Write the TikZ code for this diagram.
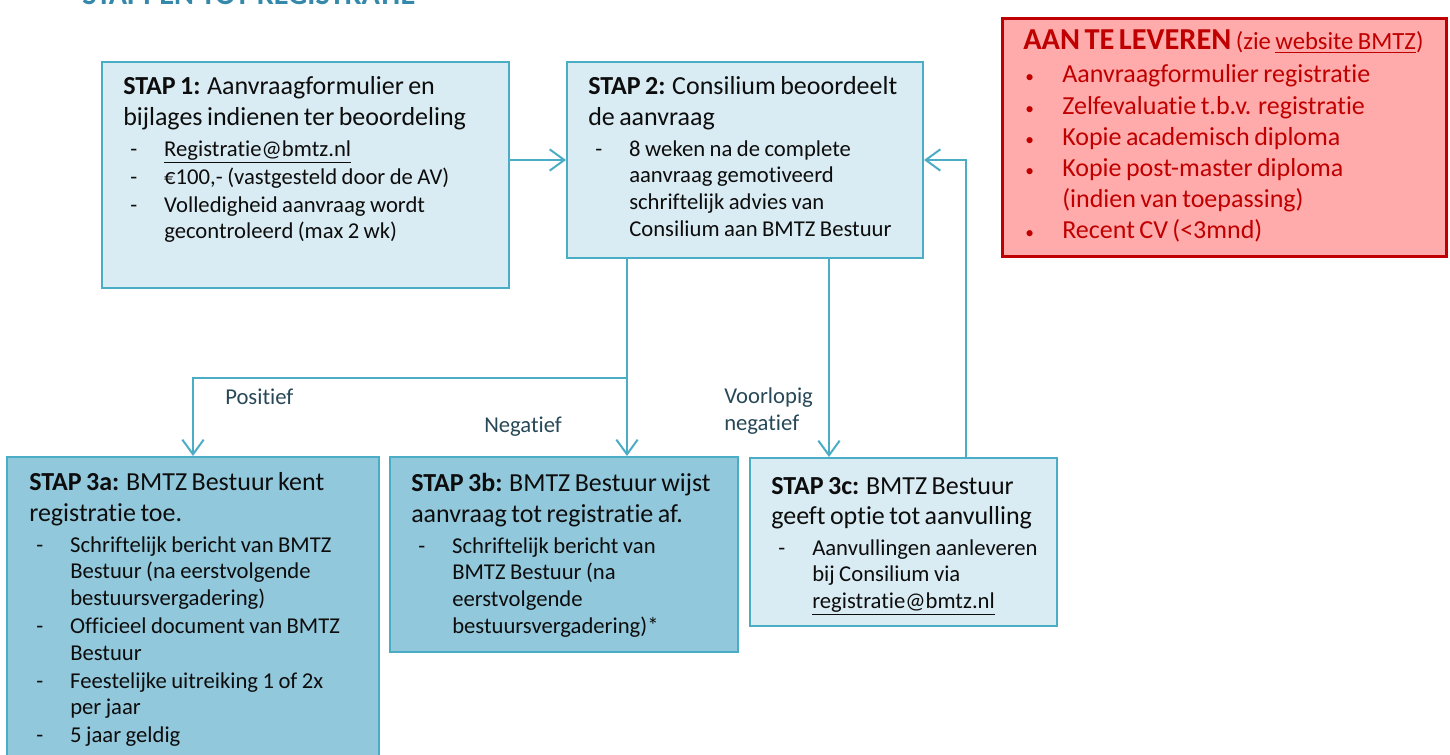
\documentclass[tikz,border=0pt]{standalone}
\usepackage{fontspec}
\setmainfont{Carlito}[Ligatures=NoCommon]
\usetikzlibrary{arrows.meta}

\definecolor{bmtzlijn}{RGB}{75,172,198}
\definecolor{bmtzlicht}{RGB}{218,236,243}
\definecolor{bmtzdonker}{RGB}{146,200,220}
\definecolor{bmtztitel}{RGB}{52,136,170}
\definecolor{bmtzrood}{RGB}{192,0,0}
\definecolor{bmtzroze}{RGB}{255,171,171}
\definecolor{bmtztak}{RGB}{40,72,88}
\definecolor{bmtztekst}{RGB}{13,13,13}

\newcommand{\kop}[1]{{\fontsize{19.5}{23}\selectfont #1\par}\vspace{2pt}}
\newcommand{\streep}[1]{\vspace{1pt}{\fontsize{17}{20}\selectfont\hangindent=30.75pt\hangafter=1\noindent\makebox[30.75pt][l]{\hspace*{5.25pt}-}#1\par}}
\newcommand{\stip}[1]{{\fontsize{19.5}{23.3}\selectfont\hangindent=29.25pt\hangafter=1\noindent\makebox[29.25pt][l]{\hspace*{1.5pt}{\fontsize{13}{13}\selectfont•}}#1\par}}

\tikzstyle{vak}=[draw=bmtzlijn, line width=1.5pt, inner sep=0pt]
\tikzstyle{lichtvak}=[vak, fill=bmtzlicht]
\tikzstyle{donkervak}=[vak, fill=bmtzdonker]
\tikzstyle{eisvak}=[draw=bmtzrood, line width=2.25pt, fill=bmtzroze, inner sep=0pt]
\tikzstyle{staptekst}=[anchor=base west, inner sep=0pt, text width=300pt, align=left, text=bmtztekst]
\tikzstyle{eistekst}=[staptekst, text width=340pt, text=bmtzrood]
\tikzstyle{tak}=[anchor=base west, inner sep=0pt, text width=80pt, align=left, font=\fontsize{17}{20}\selectfont, text=bmtztak]
\tikzstyle{titel}=[anchor=base west, inner sep=0pt, font=\fontsize{22.7}{27}\selectfont\bfseries, text=bmtztitel]
\tikzstyle{pijl}=[draw=bmtzlijn, line width=1.5pt, -{Straight Barb[length=11pt,width=16pt]}]

\begin{document}
\begin{tikzpicture}[x=0.75pt, y=-0.75pt]
  \useasboundingbox (0,0) rectangle (1450,755);

  \node[titel] (titel) at (82,5) {STAPPEN TOT REGISTRATIE};

  % First the boxes
  \node[lichtvak, minimum width=305.25pt, minimum height=169.5pt] (stap1) at (305.5,175) {};
  \node[lichtvak, minimum width=267pt, minimum height=147pt] (stap2) at (745,160) {};
  \node[eisvak, minimum width=333pt, minimum height=178.5pt] (eisen) at (1224,138) {};
  \node[donkervak, minimum width=279pt, minimum height=242.25pt] (stap3a) at (193,618.5) {};
  \node[donkervak, minimum width=261pt, minimum height=146.25pt] (stap3b) at (564,554.5) {};
  \node[lichtvak, minimum width=230.25pt, minimum height=126pt] (stap3c) at (903.5,542) {};

  % Then the text in the boxes
  \node[staptekst] (stap1tekst) at (123,95) {%
    \kop{\textbf{STAP 1:} Aanvraagformulier en\newline bijlages indienen ter beoordeling}
    \streep{\underline{Registratie@bmtz.nl}}
    \streep{€100,- (vastgesteld door de AV)}
    \streep{Volledigheid aanvraag wordt\newline gecontroleerd (max 2 wk)}};

  \node[staptekst] (stap2tekst) at (588,95) {%
    \kop{\textbf{STAP 2:} Consilium beoordeelt\newline de aanvraag}
    \streep{8 weken na de complete\newline aanvraag gemotiveerd\newline schriftelijk advies van\newline Consilium aan BMTZ Bestuur}};

  \node[eistekst] (eisentekst) at (1023,50) {%
    {\fontsize{22.8}{23}\selectfont\textbf{AAN TE LEVEREN} {\fontsize{18.5}{20}\selectfont(zie \underline{website BMTZ})}\par}\vspace{1.45pt}
    \stip{Aanvraagformulier registratie}
    \stip{Zelfevaluatie t.b.v. registratie}
    \stip{Kopie academisch diploma}
    \stip{Kopie post-master diploma\newline (indien van toepassing)}
    \stip{Recent CV (<3mnd)}};

  \node[staptekst] (stap3atekst) at (29,491) {%
    \kop{\textbf{STAP 3a:} BMTZ Bestuur kent\newline registratie toe.}
    \streep{Schriftelijk bericht van BMTZ\newline Bestuur (na eerstvolgende\newline bestuursvergadering)}
    \streep{Officieel document van BMTZ\newline Bestuur}
    \streep{Feestelijke uitreiking 1 of 2x\newline per jaar}
    \streep{5 jaar geldig}};

  \node[staptekst] (stap3btekst) at (411,492) {%
    \kop{\textbf{STAP 3b:} BMTZ Bestuur wijst\newline aanvraag tot registratie af.}
    \streep{Schriftelijk bericht van\newline BMTZ Bestuur (na\newline eerstvolgende\newline bestuursvergadering)*}};

  \node[staptekst] (stap3ctekst) at (771,494) {%
    \kop{\textbf{STAP 3c:} BMTZ Bestuur\newline geeft optie tot aanvulling}
    \streep{Aanvullingen aanleveren\newline bij Consilium via\newline \underline{registratie@bmtz.nl}}};

  % Connect the boxes
  \coordinate (splitsing) at (627,378);
  \coordinate (voorlopigpunt) at (829,378);
  \coordinate (terugpunt) at (966,378);

  \draw[pijl] (stap1.east |- stap2.west) -- (stap2.west);
  \foreach \via/\dest in {splitsing/stap3b, voorlopigpunt/stap3c}
    \draw[pijl] (stap2.south -| \via) -- (\dest.north -| \via);
  \draw[pijl] (splitsing) -| (stap3a.north);
  \draw[pijl] (stap3c.north -| terugpunt) |- (stap2.east);

  \node[tak] (positief) at (225,405) {Positief};
  \node[tak] (negatief) at (484,433) {Negatief};
  \node[tak] (voorlopig) at (724,404) {Voorlopig\\negatief};
\end{tikzpicture}
\end{document}
